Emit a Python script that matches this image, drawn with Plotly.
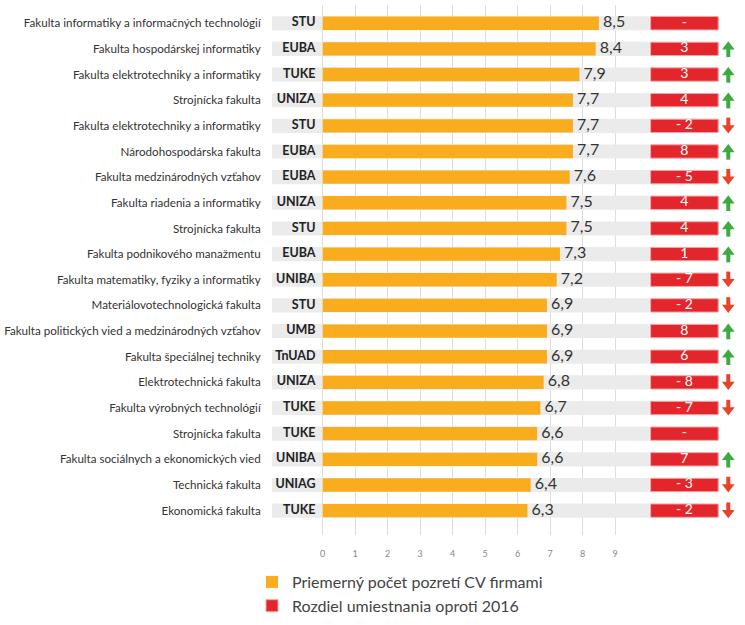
import plotly.graph_objects as go

faculties = [
    "Fakulta informatiky a informačných technológií",
    "Fakulta hospodárskej informatiky",
    "Fakulta elektrotechniky a informatiky",
    "Strojnícka fakulta",
    "Fakulta elektrotechniky a informatiky",
    "Národohospodárska fakulta",
    "Fakulta medzinárodných vzťahov",
    "Fakulta riadenia a informatiky",
    "Strojnícka fakulta",
    "Fakulta podnikového manažmentu",
    "Fakulta matematiky, fyziky a informatiky",
    "Materiálovotechnologická fakulta",
    "Fakulta politických vied a medzinárodných vzťahov",
    "Fakulta špeciálnej techniky",
    "Elektrotechnická fakulta",
    "Fakulta výrobných technológií",
    "Strojnícka fakulta",
    "Fakulta sociálnych a ekonomických vied",
    "Technická fakulta",
    "Ekonomická fakulta",
]
universities = ["STU", "EUBA", "TUKE", "UNIZA", "STU", "EUBA", "EUBA", "UNIZA", "STU", "EUBA",
                "UNIBA", "STU", "UMB", "TnUAD", "UNIZA", "TUKE", "TUKE", "UNIBA", "UNIAG", "TUKE"]
cv_views = [8.5, 8.4, 7.9, 7.7, 7.7, 7.7, 7.6, 7.5, 7.5, 7.3,
            7.2, 6.9, 6.9, 6.9, 6.8, 6.7, 6.6, 6.6, 6.4, 6.3]
rank_change = [None, 3, 3, 4, -2, 8, -5, 4, 4, 1,
               -7, -2, 8, 6, -8, -7, None, 7, -3, -2]
x_ticks = [0, 1, 2, 3, 4, 5, 6, 7, 8, 9]

FONT = "Lato"
ORANGE = "#F9AC1D"
RED = "#E2262B"
GREY = "#EBEBEB"
GREEN = "#3DAA3F"
DOWN = "#E8432A"

BG_START, BG_END = -1.56, 10.06
BOX_START, BOX_END = 10.09, 12.17
ARROW_X = 12.48
UNI_X = -0.22

rows = list(range(len(faculties)))

def fmt_num(v):
    return " " + f"{v:.1f}".replace(".", ",")

def fmt_change(c):
    if c is None:
        return "-"
    if c < 0:
        return f"- {abs(c)}"
    return str(c)

fig = go.Figure()

fig.add_trace(go.Bar(
    y=rows, x=[BG_END - BG_START] * len(rows), base=[BG_START] * len(rows),
    orientation="h", width=0.55, marker=dict(color=GREY, line=dict(width=0)),
    showlegend=False, hoverinfo="skip"))

fig.add_trace(go.Bar(
    y=rows, x=cv_views, orientation="h", width=0.52,
    marker=dict(color=ORANGE, line=dict(width=0)),
    name="Priemerný počet pozretí CV firmami"))

fig.add_trace(go.Bar(
    y=rows, x=[BOX_END - BOX_START] * len(rows), base=[BOX_START] * len(rows),
    orientation="h", width=0.52,
    marker=dict(color=RED, line=dict(width=1, color="#F3A3A3")),
    name="Rozdiel umiestnania oproti 2016"))

# value labels
fig.add_trace(go.Scatter(
    y=rows, x=cv_views, mode="text", text=[fmt_num(v) for v in cv_views],
    textposition="middle right", textfont=dict(family=FONT, size=16, color="#333333"),
    showlegend=False, hoverinfo="skip", cliponaxis=False))

# university codes
fig.add_trace(go.Scatter(
    y=rows, x=[UNI_X] * len(rows), mode="text", text=universities,
    textposition="middle left",
    textfont=dict(family=FONT, size=12.5, color="#222222", weight="bold"),
    showlegend=False, hoverinfo="skip", cliponaxis=False))

# change labels
fig.add_trace(go.Scatter(
    y=rows, x=[(BOX_START + BOX_END) / 2] * len(rows), mode="text",
    text=[fmt_change(c) for c in rank_change],
    textposition="middle center", textfont=dict(family=FONT, size=14, color="white"),
    showlegend=False, hoverinfo="skip", cliponaxis=False))

# arrows: shafts + heads
for up, color in ((True, GREEN), (False, DOWN)):
    sel = [r for r, c in zip(rows, rank_change) if c is not None and (c > 0) == up]
    sx, sy = [], []
    for r in sel:
        sx += [ARROW_X, ARROW_X, None]
        sy += ([r + 0.32, r - 0.02, None] if up else [r - 0.32, r + 0.02, None])
    fig.add_trace(go.Scatter(
        x=sx, y=sy, mode="lines", line=dict(color=color, width=4),
        showlegend=False, hoverinfo="skip", cliponaxis=False))
    fig.add_trace(go.Scatter(
        x=[ARROW_X] * len(sel), y=[r - 0.08 if up else r + 0.08 for r in sel],
        mode="markers",
        marker=dict(symbol="triangle-up" if up else "triangle-down", size=11,
                    color=color, line=dict(width=0)),
        showlegend=False, hoverinfo="skip", cliponaxis=False))

fig.update_layout(
    width=745, height=625,
    margin=dict(l=270, r=5, t=5, b=90, autoexpand=False),
    paper_bgcolor="white", plot_bgcolor="white",
    barmode="overlay",
    font=dict(family=FONT, color="#333333"),
    legend=dict(
        orientation="v", xref="paper", yref="paper",
        x=(252 - 270) / 470, y=1 - (565 - 5) / 530, xanchor="left", yanchor="top",
        font=dict(family=FONT, size=16, color="#444444"),
        itemclick=False, bgcolor="rgba(0,0,0,0)"),
    xaxis=dict(
        range=[-1.62, 12.84], tickvals=x_ticks, showgrid=True, gridcolor="#DDDDDD",
        gridwidth=1, zeroline=False, showline=False, automargin=False,
        ticks="outside", ticklen=10, tickcolor="rgba(0,0,0,0)",
        tickfont=dict(family=FONT, size=9, color="#888888")),
    yaxis=dict(
        range=[19.95, -0.71], tickvals=rows, ticktext=faculties, automargin=False,
        showgrid=False, zeroline=False, showline=False,
        ticks="outside", ticklen=6, tickcolor="rgba(0,0,0,0)",
        tickfont=dict(family=FONT, size=11.6, color="#333333")),
)

fig.write_html("out.html")
